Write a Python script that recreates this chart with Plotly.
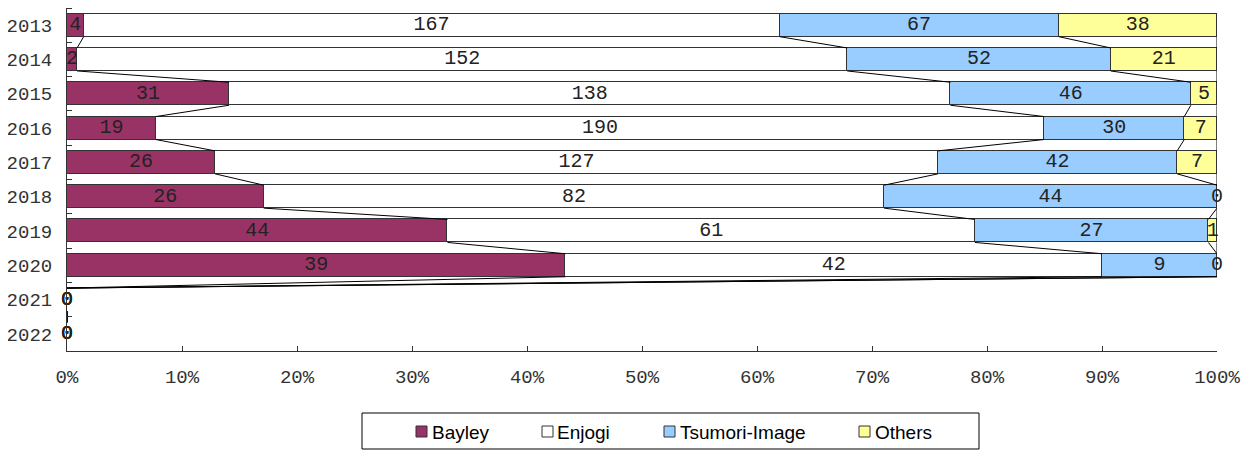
import plotly.graph_objects as go

years = ["2013", "2014", "2015", "2016", "2017", "2018", "2019", "2020", "2021", "2022"]
series_names = ["Bayley", "Enjogi", "Tsumori-Image", "Others"]
bayley = [4, 2, 31, 19, 26, 26, 44, 39, 0, 0]
enjogi = [167, 152, 138, 190, 127, 82, 61, 42, 0, 0]
tsumori = [67, 52, 46, 30, 42, 44, 27, 9, 0, 0]
others = [38, 21, 5, 7, 7, 0, 1, 0, 0, 0]
x_ticks = [0, 10, 20, 30, 40, 50, 60, 70, 80, 90, 100]

colors = ["#993366", "#FFFFFF", "#99CCFF", "#FFFF99"]
series_values = [bayley, enjogi, tsumori, others]

n = len(years)
idx = list(range(n))
totals = [sum(s[i] for s in series_values) for i in idx]
pcts = [[(s[i] / totals[i] * 100 if totals[i] else 0) for i in idx] for s in series_values]

cums = []
run = [0.0] * n
for p in pcts:
    run = [run[i] + p[i] for i in idx]
    cums.append(run[:])

BAR_W = 0.67
fig = go.Figure()

# Bars
for name, p, c in zip(series_names, pcts, colors):
    fig.add_trace(go.Bar(
        name=name, orientation="h", x=p, y=idx, width=BAR_W,
        marker=dict(color=c, line=dict(color="#333333", width=1)),
        showlegend=False, hoverinfo="skip",
    ))

# Series connector lines
for cum in cums:
    xs, ys = [], []
    for i in range(n - 1):
        xs += [cum[i], cum[i + 1], None]
        ys += [i + BAR_W / 2, i + 1 - BAR_W / 2, None]
    fig.add_trace(go.Scatter(x=xs, y=ys, mode="lines",
                             line=dict(color="#000000", width=1),
                             showlegend=False, hoverinfo="skip"))

# Data labels
for vals, p, cum in zip(series_values, pcts, cums):
    fig.add_trace(go.Scatter(
        x=[cum[i] - p[i] / 2 for i in idx], y=idx,
        text=[str(v) for v in vals], mode="text",
        textfont=dict(family="Liberation Mono", size=20, color="#222222"),
        textposition="middle center", cliponaxis=False,
        showlegend=False, hoverinfo="skip"))

# page body has an 8px default margin; figure sized to fill the window
OFF = 8
W, H = 1252 - OFF, 450 - OFF
L, R, T, B = 59, 35, 0, 99
PW, PH = W - L - R, H - T - B


def px(xs):
    return (xs - OFF - L) / PW


def py(ys):
    return (H - B - (ys - OFF)) / PH


shapes = [dict(type="rect", xref="paper", yref="paper",
               x0=px(362), x1=px(979), y0=py(449), y1=py(413),
               line=dict(color="#000000", width=1), fillcolor="rgba(0,0,0,0)")]
annotations = []
leg_sym_x = [416, 542, 664, 859]
leg_txt_x = [431, 556, 679, 874]
for name, c, sx, tx in zip(series_names, colors, leg_sym_x, leg_txt_x):
    shapes.append(dict(type="rect", xref="paper", yref="paper",
                       x0=px(sx), x1=px(sx + 11), y0=py(437), y1=py(426),
                       line=dict(color="#333333", width=1), fillcolor=c))
    annotations.append(dict(xref="paper", yref="paper", x=px(tx), y=py(432),
                            xanchor="left", yanchor="middle", text=name,
                            showarrow=False, borderpad=0,
                            font=dict(family="Liberation Sans", size=19, color="#000000")))

fig.update_layout(
    width=W, height=H, barmode="stack", bargap=0,
    margin=dict(l=L, r=R, t=T, b=B),
    paper_bgcolor="#FFFFFF", plot_bgcolor="#FFFFFF",
    shapes=shapes, annotations=annotations, showlegend=False,
    xaxis=dict(range=[0, 100], tickvals=x_ticks, ticktext=[f"{v}%" for v in x_ticks],
               ticks="inside", ticklen=5, tickcolor="#333333", ticklabelstandoff=8,
               showline=True, linecolor="#333333", linewidth=1,
               showgrid=False, zeroline=False,
               tickfont=dict(family="Liberation Mono", size=19, color="#333333")),
    yaxis=dict(range=[n - 0.5, -0.5], tickvals=idx, ticktext=years, ticks="",
               showline=True, linecolor="#333333", linewidth=1,
               showgrid=False, zeroline=False, ticklabelstandoff=10,
               minor=dict(tickvals=[i - 0.5 for i in range(n + 1)], ticks="inside",
                          ticklen=5, tickcolor="#333333", showgrid=False),
               tickfont=dict(family="Liberation Mono", size=19, color="#333333")),
)

fig.write_html("out.html")
